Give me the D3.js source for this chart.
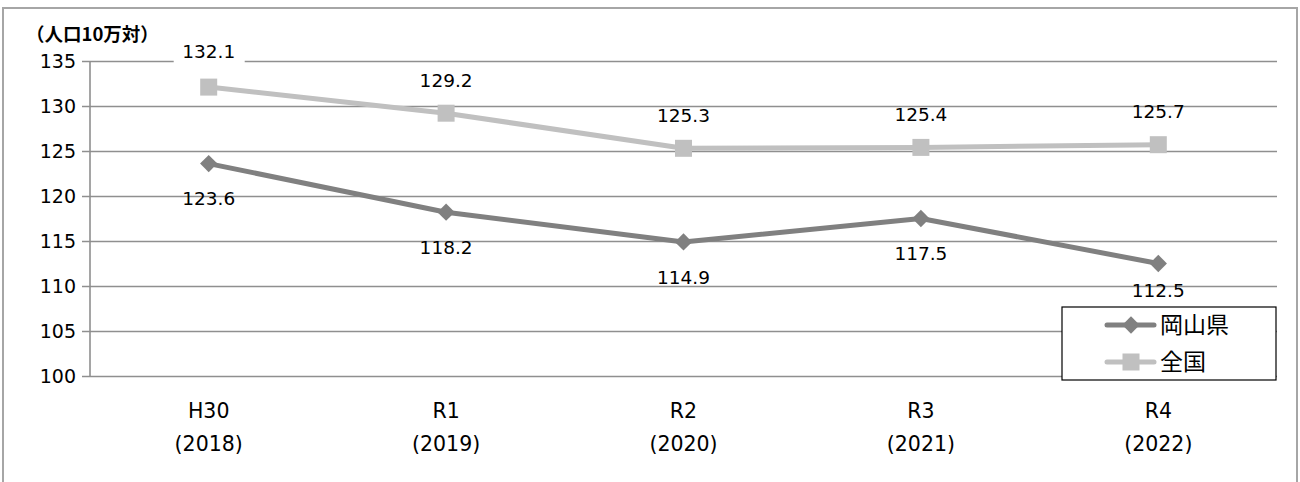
<!DOCTYPE html>
<html>
<head>
<meta charset="utf-8">
<script src="https://cdn.jsdelivr.net/npm/d3@7"></script>
<style>
  html, body { margin: 0; padding: 0; background: #fff; }
  svg { display: block; }
</style>
</head>
<body>
<svg id="chart" width="1300" height="482"></svg>
<script>
// ---- data ----
const categories = ["H30", "R1", "R2", "R3", "R4"];
const years = ["(2018)", "(2019)", "(2020)", "(2021)", "(2022)"];
const seriesNames = ["岡山県", "全国"];
const okayama = [123.6, 118.2, 114.9, 117.5, 112.5];
const national = [132.1, 129.2, 125.3, 125.4, 125.7];
const yTicks = [100, 105, 110, 115, 120, 125, 130, 135];
const unitLabel = "（人口10万対）";

// ---- layout ----
const plot = { left: 90, right: 1277, top: 61, bottom: 376 };
const svg = d3.select("#chart");
const latin = "'DejaVu Sans', sans-serif";
const cjk = "'Noto Sans CJK JP', sans-serif";

// outer border
svg.append("rect").attr("x", 3).attr("y", 8).attr("width", 1294).attr("height", 490)
  .attr("fill", "#fff").attr("stroke", "#a6a6a6").attr("stroke-width", 2);

const x = d3.scaleBand().domain(categories).range([plot.left, plot.right]);
const y = d3.scaleLinear().domain([100, 135]).range([plot.bottom, plot.top]);
const cx = c => x(c) + x.bandwidth() / 2;

// gridlines + y axis
const yAxis = d3.axisLeft(y).tickValues(yTicks).tickSize(-(plot.right - plot.left)).tickPadding(14);
const gy = svg.append("g").attr("transform", `translate(${plot.left},0)`).call(yAxis);
gy.select(".domain").remove();
gy.selectAll(".tick line").attr("stroke", "#8f8f8f").attr("stroke-width", 1.6).attr("x1", -8);
gy.selectAll(".tick text").attr("font-family", latin).attr("font-size", 19).attr("fill", "#000");
// vertical axis line
svg.append("line").attr("x1", plot.left).attr("x2", plot.left).attr("y1", plot.top).attr("y2", plot.bottom)
  .attr("stroke", "#8f8f8f").attr("stroke-width", 1.6);

// x axis labels
const xAxis = d3.axisBottom(x).tickSize(0).tickPadding(0);
const gx = svg.append("g").attr("transform", `translate(0,${plot.bottom})`).call(xAxis);
gx.select(".domain").remove();
gx.selectAll(".tick text").remove();
gx.selectAll(".tick").each(function(d, i) {
  const t = d3.select(this).append("text").attr("font-family", latin).attr("font-size", 20.5)
    .attr("fill", "#000").attr("text-anchor", "middle");
  t.append("tspan").attr("x", 0).attr("y", 42).text(d);
  t.append("tspan").attr("x", 0).attr("y", 75).text(years[i]);
});

// unit label
svg.append("text").attr("x", 26).attr("y", 41).attr("font-family", cjk).attr("font-weight", "bold")
  .attr("font-size", 18.5).attr("fill", "#000").text(unitLabel);

// series
const series = [
  { name: seriesNames[0], values: okayama, color: "#808080", marker: "diamond", labelDy: 35 },
  { name: seriesNames[1], values: national, color: "#c0c0c0", marker: "square", labelDy: -33 }
];
const legend = { x: 1062, y: 307, w: 214, h: 73 };

const line = d3.line().x((d, i) => cx(categories[i])).y(d => y(d));
function drawMarker(g, type, px, py, color) {
  if (type === "square") {
    g.append("rect").attr("x", px - 8.5).attr("y", py - 8.5).attr("width", 17).attr("height", 17).attr("fill", color);
  } else {
    g.append("path").attr("d", d3.symbol().type(d3.symbolSquare).size(150)()).attr("fill", color)
      .attr("transform", `translate(${px},${py}) rotate(45)`);
  }
}

// draw national first (behind), then okayama
[series[1], series[0]].forEach(s => {
  const g = svg.append("g");
  g.append("path").datum(s.values).attr("d", line).attr("fill", "none")
    .attr("stroke", s.color).attr("stroke-width", 5).attr("stroke-linejoin", "round");
  s.values.forEach((v, i) => drawMarker(g, s.marker, cx(categories[i]), y(v), s.color));
});

// data labels
series.forEach(s => {
  s.values.forEach((v, i) => {
    let ly = y(v) + s.labelDy;
    const lx = cx(categories[i]);
    // keep labels clear of the legend box
    if (lx > legend.x && s.labelDy > 0) ly = Math.min(ly, legend.y - 17);
    const label = v.toFixed(1);
    if (ly < plot.top) {
      ly -= 3;
      svg.append("rect").attr("x", lx - 35).attr("y", ly - 12).attr("width", 71).attr("height", 24).attr("fill", "#fff");
    }
    svg.append("text").attr("x", lx).attr("y", ly).attr("dy", "0.36em").attr("text-anchor", "middle")
      .attr("font-family", latin).attr("font-size", 18.5).attr("fill", "#000").text(label);
  });
});

// legend
const lg = svg.append("g");
lg.append("rect").attr("x", legend.x).attr("y", legend.y).attr("width", legend.w).attr("height", legend.h)
  .attr("fill", "#fff").attr("stroke", "#000").attr("stroke-width", 1.2);
series.forEach((s, i) => {
  const ry = legend.y + 18 + i * 37;
  lg.append("line").attr("x1", 1107).attr("x2", 1154).attr("y1", ry).attr("y2", ry)
    .attr("stroke", s.color).attr("stroke-width", 5).attr("stroke-linecap", "round");
  drawMarker(lg, s.marker, 1131, ry, s.color);
  lg.append("text").attr("x", 1160).attr("y", ry).attr("dy", "0.36em").attr("font-family", cjk)
    .attr("font-size", 23).attr("fill", "#000").text(s.name);
});
</script>
</body>
</html>
